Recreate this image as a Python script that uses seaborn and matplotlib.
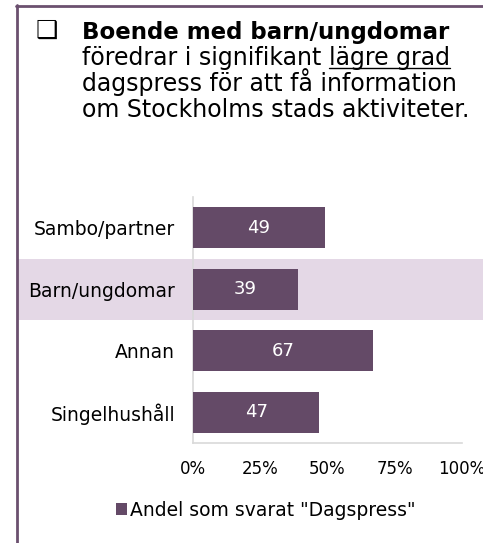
import matplotlib
matplotlib.use("Agg")
import matplotlib.pyplot as plt
import matplotlib.transforms as mtransforms
from matplotlib.patches import Rectangle
from matplotlib.lines import Line2D
import seaborn as sns
import pandas as pd

categories = ["Sambo/partner", "Barn/ungdomar", "Annan", "Singelhushåll"]
values = [49, 39, 67, 47]
highlight = "Barn/ungdomar"
x_ticks = [0, 25, 50, 75, 100]
x_tick_labels = ["0%", "25%", "50%", "75%", "100%"]
series_name = 'Andel som svarat "Dagspress"'

BAR = "#644a67"
BAND = "#e4d8e6"
FRAME = "#6b506f"

sns.set_theme(style="white")
plt.rcParams["font.family"] = ["DejaVu Sans"]
plt.rcParams["text.color"] = "black"

W, H = 483, 543
fig = plt.figure(figsize=(W / 100, H / 100), dpi=100)
ax = fig.add_axes([193 / W, 1 - 443 / H, (462 - 193) / W, (443 - 197) / H])
ax.patch.set_alpha(0)

df = pd.DataFrame({"kategori": categories, "andel": values})
sns.barplot(data=df, y="kategori", x="andel", orient="h", color=BAR,
            saturation=1, width=0.67, linewidth=0, ax=ax, label=series_name,
            zorder=3)

# highlighted row band across the panel
hi = categories.index(highlight)
trans = mtransforms.blended_transform_factory(fig.transFigure, ax.transData)
ax.add_patch(Rectangle((18 / W, hi - 0.5), 1, 1, transform=trans,
                       facecolor=BAND, edgecolor="none", clip_on=False, zorder=0))

for i, v in enumerate(values):
    ax.text(v / 2, i, f"{v}", ha="center", va="center", color="white",
            fontsize=13, zorder=4)

ax.set_xlim(0, 100)
ax.set_xticks(x_ticks)
ax.set_xticklabels(x_tick_labels)
ax.set_xlabel("")
ax.set_ylabel("")
ax.tick_params(axis="both", length=0, colors="black", labelcolor="black")
ax.tick_params(axis="y", pad=13, labelsize=13.5)
ax.tick_params(axis="x", pad=12, labelsize=12)
for side in ["top", "right"]:
    ax.spines[side].set_visible(False)
for side in ["left", "bottom"]:
    ax.spines[side].set_color("#d9d9d9")
    ax.spines[side].set_linewidth(1.2)
    ax.spines[side].set_zorder(1)

leg = ax.legend(loc="center", bbox_to_anchor=(266 / W, 1 - 510 / H),
                bbox_transform=fig.transFigure, frameon=False, fontsize=13.5,
                handlelength=0.55, handleheight=0.55, handletextpad=0.2)
for t in leg.get_texts():
    t.set_color("black")

# panel frame
fig.add_artist(Line2D([17 / W, 17 / W], [0, 1 - 5 / H], color=FRAME, lw=2,
                      transform=fig.transFigure))
fig.add_artist(Line2D([16 / W, 1], [1 - 5.5 / H, 1 - 5.5 / H], color=FRAME,
                      lw=2, transform=fig.transFigure))

# heading text with checkbox bullet
fs = 17
fig.text(36 / W, 1 - 31 / H, "❑", fontsize=18, ha="left", va="center")
x0 = 82 / W
baselines = [39, 65, 91, 117]
fig.text(x0, 1 - baselines[0] / H, "Boende med barn/ungdomar", fontsize=fs - 0.5,
         fontweight="bold", va="baseline")
t1 = fig.text(x0, 1 - baselines[1] / H, "föredrar i signifikant ", fontsize=fs,
              va="baseline")
fig.canvas.draw()
r = fig.canvas.get_renderer()
bb = t1.get_window_extent(r)
t2 = fig.text(bb.x1 / W, 1 - baselines[1] / H, "lägre grad", fontsize=fs,
              va="baseline")
bb2 = t2.get_window_extent(r)
uy = 1 - (baselines[1] + 3) / H
fig.add_artist(Line2D([bb2.x0 / W, bb2.x1 / W], [uy, uy], color="black",
                      lw=1, transform=fig.transFigure))
fig.text(x0, 1 - baselines[2] / H, "dagspress för att få information",
         fontsize=fs, va="baseline")
fig.text(x0, 1 - baselines[3] / H, "om Stockholms stads aktiviteter.",
         fontsize=fs, va="baseline")

fig.savefig("out.png", dpi=100)
